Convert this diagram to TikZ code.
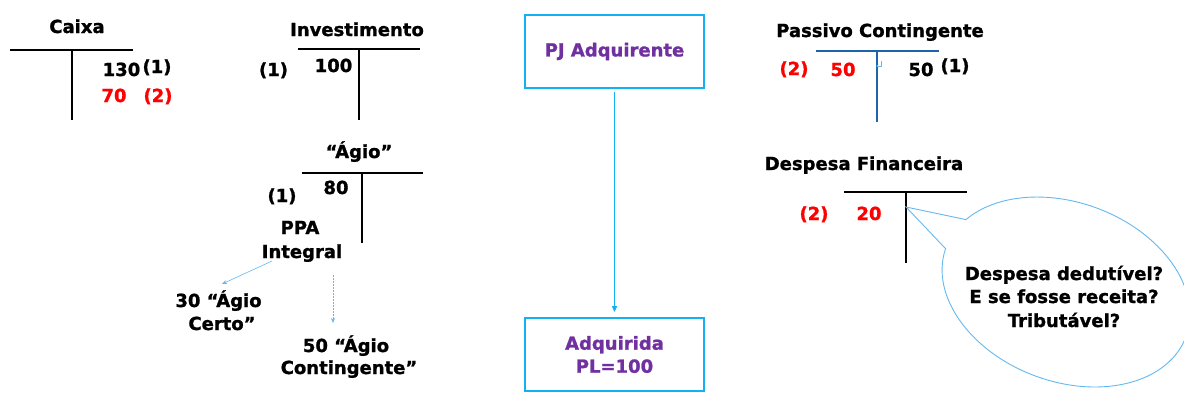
\documentclass[tikz,border=0pt]{standalone}
\usepackage{fontspec}
\setmainfont{DejaVu Sans}[BoldFeatures={FakeBold=1.2}]
\usetikzlibrary{arrows.meta}
\definecolor{tred}{RGB}{255,0,0}
\definecolor{tpurple}{RGB}{112,48,160}
\definecolor{boxblue}{RGB}{20,176,240}
\definecolor{lightblue}{RGB}{100,185,240}
\definecolor{darkblue}{RGB}{30,100,170}
\begin{document}
\begin{tikzpicture}[x=1pt,y=-1pt,
  txt/.style={font=\fontsize{18}{22}\selectfont\bfseries, inner sep=0pt, anchor=base},
  redtxt/.style={txt, text=tred},
  tline/.style={line width=1.2pt},
  bluetline/.style={line width=1.2pt, draw=darkblue},
  boxnode/.style={draw=boxblue, line width=1.8pt, minimum width=179pt, minimum height=73pt,
    inner sep=0pt, align=center, text=tpurple, font=\fontsize{18}{23}\selectfont\bfseries},
  mainarrow/.style={draw=boxblue, line width=1.5pt, -{Triangle[length=6pt,width=5pt]}},
  thinarrow/.style={draw=lightblue, line width=0.6pt, -{Stealth[length=5pt,width=4pt]}},
  callout/.style={draw=lightblue, line width=0.9pt}]
\useasboundingbox[fill=white] (0,0) rectangle (1184,407);

% ---------- Caixa ----------
\node[txt] (caixaT) at (77,33) {Caixa};
\coordinate (cxL) at (10,50); \coordinate (cxR) at (133,50);
\coordinate (cxT) at (72,50); \coordinate (cxB) at (72,120);
\draw[tline] (cxL) -- (cxR); \draw[tline] (cxT) -- (cxB);
\node[txt] (c130) at (121.5,76) {130};
\node[txt] (c1) at (157,73) {(1)};
\node[redtxt] (c70) at (114,102) {70};
\node[redtxt] (c2) at (158,102) {(2)};

% ---------- Investimento ----------
\node[txt] (invT) at (357,36) {Investimento};
\coordinate (ivL) at (298,49); \coordinate (ivR) at (420,49);
\coordinate (ivT) at (359,49); \coordinate (ivB) at (359,120);
\draw[tline] (ivL) -- (ivR); \draw[tline] (ivT) -- (ivB);
\node[txt] (i1) at (273.5,76) {(1)};
\node[txt] (i100) at (333.5,72) {100};

% ---------- Agio ----------
\node[txt] (agT) at (359,158) {“Ágio”};
\coordinate (agL) at (302,173); \coordinate (agR) at (423,173);
\coordinate (agTp) at (362,173); \coordinate (agB) at (362,243);
\draw[tline] (agL) -- (agR); \draw[tline] (agTp) -- (agB);
\node[txt] (a1) at (282,202) {(1)};
\node[txt] (a80) at (336,194) {80};
\node[txt] (ppa1) at (300,234) {PPA};
\node[txt] (ppa2) at (302,258) {Integral};
\node[txt] (ac1) at (218.5,307) {30 “Ágio};
\node[txt] (ac2) at (222,330) {Certo”};
\node[txt] (cg1) at (346,352) {50 “Ágio};
\node[txt] (cg2) at (349,374) {Contingente”};
\coordinate (p1s) at (272,261); \coordinate (p1e) at (222,284);
\coordinate (p2s) at (333,275); \coordinate (p2e) at (333,323);
\draw[thinarrow] (p1s) -- (p1e);
\draw[thinarrow, dash pattern=on 2pt off 1pt] (p2s) -- (p2e);

% ---------- PJ boxes ----------
\node[boxnode] (pj) at (614.5,51.5) {PJ Adquirente};
\node[boxnode] (adq) at (614.5,354.5) {Adquirida\\PL=100};
\draw[mainarrow, shorten <=3pt, shorten >=5pt] (pj) -- (adq);

% ---------- Passivo Contingente ----------
\node[txt] (pcT) at (880,37) {Passivo Contingente};
\coordinate (pcL) at (816,51); \coordinate (pcR) at (939,51);
\coordinate (pcTp) at (877,51); \coordinate (pcB) at (877,122);
\draw[bluetline] (pcL) -- (pcR); \draw[bluetline] (pcTp) -- (pcB);
\node[redtxt] (pc2) at (794,75) {(2)};
\node[redtxt] (pc50r) at (843,76) {50};
\node[txt] (pc50) at (921,76) {50};
\node[txt] (pc1) at (955,72) {(1)};
\coordinate (hkA) at (881,61); \coordinate (hkB) at (881,66); \coordinate (hkC) at (876,66);
\draw[lightblue, line width=0.9pt, -{Stealth[length=2.5pt,width=2.5pt]}] (hkA) -- (hkB) -- (hkC);

% ---------- Despesa Financeira ----------
\node[txt] (dfT) at (864,170) {Despesa Financeira};
\coordinate (dfL) at (844,192); \coordinate (dfR) at (967,192);
\coordinate (dfTp) at (906,192); \coordinate (dfB) at (906,263);
\draw[tline] (dfL) -- (dfR); \draw[tline] (dfTp) -- (dfB);
\node[redtxt] (df2) at (814,220) {(2)};
\node[redtxt] (df20) at (869,220) {20};

% ---------- Callout ----------
\coordinate (tip) at (906,207);
\begin{scope}[shift={(1066,292)}, rotate=-20.5]
\draw[callout] (tip) -- (181:128pt and 89.4pt)
  arc[start angle=181, end angle=518.5, x radius=128pt, y radius=89.4pt] -- cycle;
\end{scope}
\node[txt] (q1) at (1064,280) {Despesa dedutível?};
\node[txt] (q2) at (1064,303) {E se fosse receita?};
\node[txt] (q3) at (1064,327) {Tributável?};
\end{tikzpicture}
\end{document}
